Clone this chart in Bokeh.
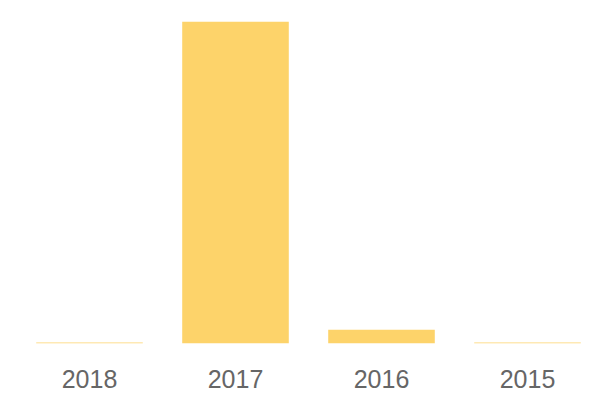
from bokeh.plotting import figure
from bokeh.models import Range1d, FactorRange
from bokeh.embed import file_html
from bokeh.resources import INLINE

years = ["2018", "2017", "2016", "2015"]
values = [0.3, 100, 4.3, 0.3]

p = figure(x_range=FactorRange(*years, range_padding=0), y_range=Range1d(0, 100),
           width=600, height=398, output_backend="svg", toolbar_location=None,
           min_border_left=16, min_border_right=0, min_border_top=21, min_border_bottom=55)
p.vbar(x=years, top=values, width=0.73, color="#FDD36A", line_color=None)

p.outline_line_color = None
p.grid.grid_line_color = None
p.yaxis.visible = False
p.xaxis.axis_line_color = None
p.xaxis.major_tick_line_color = None
p.xaxis.minor_tick_line_color = None
p.xaxis.major_label_text_font = "Liberation Sans"
p.xaxis.major_label_text_font_size = "25px"
p.xaxis.major_label_text_color = "#666666"
p.xaxis.major_label_standoff = 20
p.x_range.range_padding = 0

open("out.html", "w").write(file_html(p, INLINE))
